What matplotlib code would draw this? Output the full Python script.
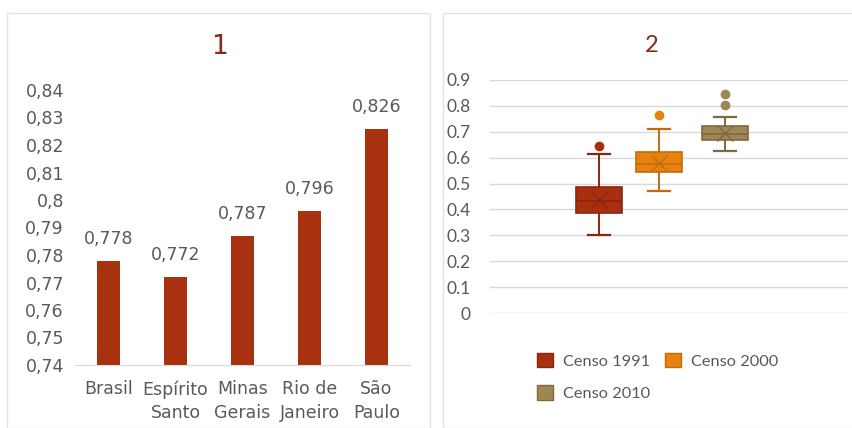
import matplotlib.pyplot as plt
from matplotlib.patches import Rectangle, Patch

# painel 1 - IDH por estado
estados = ['Brasil', 'Espírito\nSanto', 'Minas\nGerais', 'Rio de\nJaneiro', 'São\nPaulo']
idh = [0.778, 0.772, 0.787, 0.796, 0.826]
yticks1 = [0.74, 0.75, 0.76, 0.77, 0.78, 0.79, 0.80, 0.81, 0.82, 0.83, 0.84]

# painel 2 - boxplots por censo
censos = ['Censo 1991', 'Censo 2000', 'Censo 2010']
whislo = [0.300, 0.472, 0.627]
q1 = [0.388, 0.543, 0.667]
med = [0.433, 0.576, 0.692]
q3 = [0.485, 0.621, 0.722]
whishi = [0.615, 0.711, 0.757]
media = [0.437, 0.579, 0.697]
outliers = [[0.645], [0.764], [0.805, 0.847]]

W, H = 853, 428
cinza = '#595959'
grade = '#D9D9D9'

fig = plt.figure(figsize=(W / 100, H / 100), dpi=100)
fig.patch.set_facecolor('white')

def px(x0, y0, x1, y1):
    return [x0 / W, 1 - y1 / H, (x1 - x0) / W, (y1 - y0) / H]

# molduras dos dois paineis
fig.patches.append(Rectangle((7 / W, 0), (430 - 7) / W, 1 - 13 / H, transform=fig.transFigure,
                             fill=False, edgecolor='#E3E3E3', lw=1))
fig.patches.append(Rectangle((443 / W, 0), (853 - 443) / W, 1 - 13 / H, transform=fig.transFigure,
                             fill=False, edgecolor='#E3E3E3', lw=1))

# ---- painel 1
f1 = 'DejaVu Sans'
ax1 = fig.add_axes(px(75, 90, 410, 365))
x = range(len(estados))
ax1.bar(x, idh, width=0.33, color='#A8320F')
for i, v in zip(x, idh):
    ax1.annotate(('%.3f' % v).replace('.', ','), (i, v), xytext=(0, 9), textcoords='offset points',
                 ha='center', va='bottom', fontsize=12.5, color=cinza, family=f1)
ax1.set_ylim(0.74, 0.84)
ax1.set_xlim(-0.5, 4.5)
ax1.set_yticks(yticks1)
ax1.set_yticklabels([('%g' % t).replace('.', ',') for t in yticks1], fontsize=12.5, color=cinza, family=f1)
ax1.set_xticks(list(x))
ax1.set_xticklabels(estados, fontsize=12.5, color=cinza, family=f1, linespacing=1.4)
ax1.tick_params(length=0, pad=11)
ax1.tick_params(axis='y', pad=8)
for s in ['top', 'right', 'left']:
    ax1.spines[s].set_visible(False)
ax1.spines['bottom'].set_color(grade)
fig.text(220 / W, 1 - 47 / H, '1', ha='center', va='center', fontsize=19, color='#8B2A1A', family=f1)

# ---- painel 2
f2 = 'Lato'
ax2 = fig.add_axes(px(490, 80, 848, 313))
cores = ['#A8300F', '#E8820E', '#9F8655']
bordas = ['#8A2510', '#C46A0C', '#7E6A42']
stats = []
for i in range(3):
    stats.append(dict(med=med[i], q1=q1[i], q3=q3[i], whislo=whislo[i], whishi=whishi[i],
                      fliers=outliers[i], mean=media[i]))
pos = [1, 1.95, 3.0]
for i in range(3):
    ax2.bxp([stats[i]], positions=[pos[i]], widths=0.72, patch_artist=True, showmeans=True,
            boxprops=dict(facecolor=cores[i], edgecolor=bordas[i], lw=1.2),
            medianprops=dict(color=bordas[i], lw=1.2),
            whiskerprops=dict(color=bordas[i], lw=1.4),
            capprops=dict(color=bordas[i], lw=1.6),
            capwidths=0.35,
            meanprops=dict(marker='x', markersize=12, markeredgecolor=bordas[i], markeredgewidth=1.0),
            flierprops=dict(marker='o', markersize=6, markerfacecolor=cores[i], markeredgecolor=cores[i]))
ax2.set_xlim(-0.73, 4.95)
ax2.set_ylim(0, 0.9)
ax2.set_yticks([i / 10 for i in range(10)])
ax2.set_yticklabels(['0'] + ['%.1f' % (i / 10) for i in range(1, 10)], fontsize=12.5, color=cinza, family=f2)
ax2.set_xticks([])
ax2.tick_params(length=0, pad=14)
ax2.grid(axis='y', color=grade, lw=1)
ax2.set_axisbelow(True)
for s in ['top', 'right', 'left', 'bottom']:
    ax2.spines[s].set_visible(False)
fig.text(652 / W, 1 - 45 / H, '2', ha='center', va='center', fontsize=17, color='#8B2A1A', family=f2)

# ncol=2 preenche por coluna: 1991 e 2010 na primeira, 2000 na segunda
ordem = [0, 2, 1]
handles = [Patch(facecolor=cores[i], edgecolor=bordas[i], label=censos[i]) for i in ordem]
fig.legend(handles=handles, loc='upper left', bbox_to_anchor=(522 / W, 1 - 338 / H), ncol=2,
           frameon=False, prop={'family': f2, 'size': 11.8}, labelcolor=cinza,
           handlelength=1.0, handleheight=1.0, handletextpad=0.6, columnspacing=0.9, labelspacing=1.0)

fig.savefig('out.png', dpi=100)
